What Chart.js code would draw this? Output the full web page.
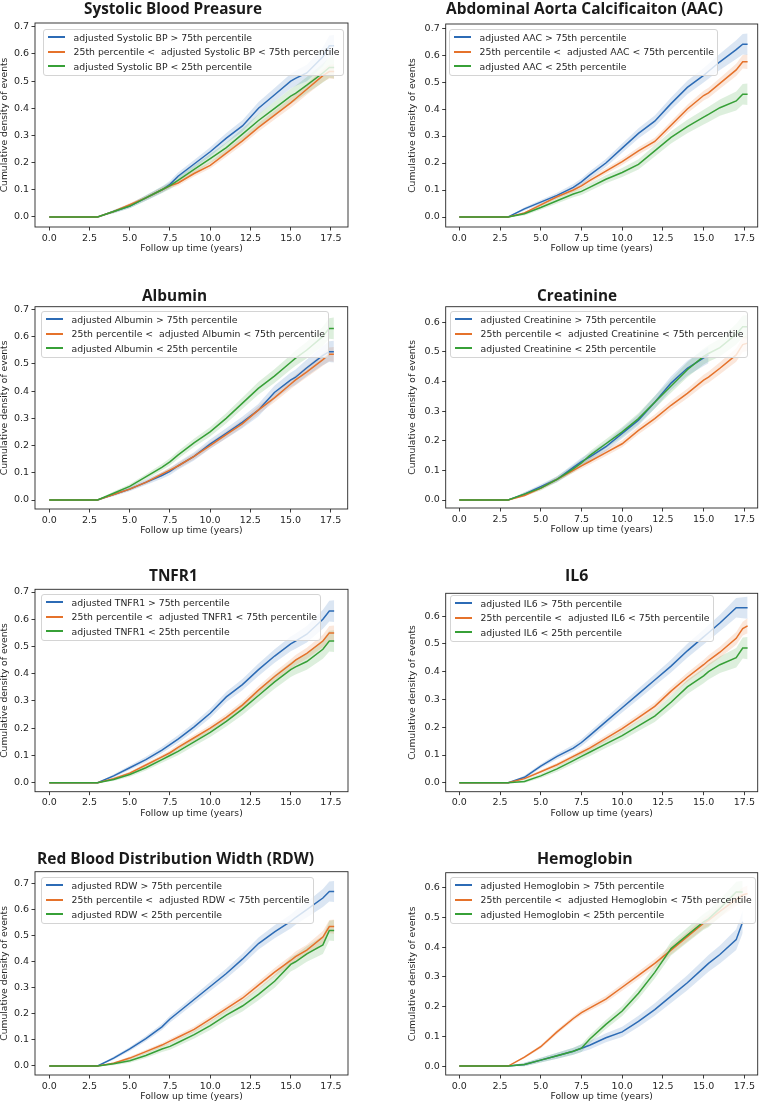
<!DOCTYPE html>
<html>
<head>
<meta charset="utf-8">
<script src="https://cdn.jsdelivr.net/npm/chart.js@4.4.0/dist/chart.umd.min.js"></script>
<style>
  html, body { margin:0; padding:0; background:#fff; }
  body { width:759px; height:1105px; position:relative; overflow:hidden; font-family:"DejaVu Sans", sans-serif; }
  canvas { position:absolute; }
  .ptitle { position:absolute; font-family:"Open Sans", sans-serif; font-weight:700; font-size:16px; line-height:16px; color:#1a1a1a; white-space:nowrap; transform-origin:0 0; }
  .legend { position:absolute; background:rgba(255,255,255,0.8); border:1px solid #d4d4d4; border-radius:3px; font-family:"DejaVu Sans", sans-serif; font-size:9.3px; color:#262626; padding:0 3px 2px 0; box-sizing:border-box; }
  .legend .row { height:14px; display:flex; align-items:center; white-space:pre; }
  .legend .swatch { width:17.6px; height:2px; margin-left:3.5px; margin-right:8.5px; flex:none; }
</style>
</head>
<body>
<script>
// ---------------- data ----------------
const years = [0, 3, 4, 5, 6, 7, 7.5, 8, 9, 10, 11, 12, 13, 14, 15, 15.3, 16, 17, 17.4, 17.7];
const xTicks = [0, 2.5, 5, 7.5, 10, 12.5, 15, 17.5];
const yTicksTo07 = [0, 0.1, 0.2, 0.3, 0.4, 0.5, 0.6, 0.7];
const yTicksTo06 = [0, 0.1, 0.2, 0.3, 0.4, 0.5, 0.6];

// half-width of the shaded confidence band, outer quartile groups and the middle group
const ciQuartileGroups = [0, 0, 0.006, 0.008, 0.010, 0.012, 0.013, 0.014, 0.015, 0.017, 0.019, 0.021, 0.023, 0.025, 0.027, 0.028, 0.030, 0.035, 0.038, 0.040];
const ciMiddleGroup    = [0, 0, 0.004, 0.006, 0.007, 0.008, 0.009, 0.010, 0.011, 0.012, 0.013, 0.014, 0.015, 0.016, 0.018, 0.019, 0.020, 0.023, 0.025, 0.027];

const panelTitles = ["Systolic Blood Preasure", "Abdominal Aorta Calcificaiton (AAC)", "Albumin", "Creatinine", "TNFR1", "IL6", "Red Blood Distribution Width (RDW)", "Hemoglobin"];
const markerNames = ["Systolic BP", "AAC", "Albumin", "Creatinine", "TNFR1", "IL6", "RDW", "Hemoglobin"];

const sbpAbove75  = [0, 0, 0.020, 0.040, 0.070, 0.100, 0.120, 0.150, 0.195, 0.240, 0.290, 0.335, 0.400, 0.450, 0.500, 0.510, 0.530, 0.590, 0.630, 0.630];
const sbpMiddle   = [0, 0, 0.020, 0.045, 0.070, 0.100, 0.115, 0.125, 0.160, 0.190, 0.235, 0.280, 0.330, 0.375, 0.420, 0.435, 0.470, 0.520, 0.535, 0.535];
const sbpBelow25  = [0, 0, 0.020, 0.040, 0.070, 0.100, 0.115, 0.135, 0.175, 0.215, 0.255, 0.305, 0.355, 0.400, 0.445, 0.455, 0.485, 0.530, 0.550, 0.550];

const aacAbove75  = [0, 0, 0.030, 0.055, 0.080, 0.110, 0.130, 0.155, 0.200, 0.255, 0.310, 0.355, 0.420, 0.480, 0.525, 0.540, 0.575, 0.620, 0.640, 0.640];
const aacMiddle   = [0, 0, 0.015, 0.045, 0.075, 0.100, 0.115, 0.135, 0.170, 0.205, 0.245, 0.280, 0.340, 0.400, 0.450, 0.460, 0.495, 0.545, 0.575, 0.575];
const aacBelow25  = [0, 0, 0.012, 0.035, 0.060, 0.085, 0.095, 0.110, 0.140, 0.165, 0.195, 0.245, 0.295, 0.335, 0.370, 0.380, 0.405, 0.430, 0.455, 0.455];

const albAbove75  = [0, 0, 0.020, 0.040, 0.065, 0.090, 0.105, 0.125, 0.160, 0.205, 0.245, 0.285, 0.330, 0.395, 0.440, 0.450, 0.485, 0.530, 0.545, 0.545];
const albMiddle   = [0, 0, 0.020, 0.040, 0.065, 0.095, 0.110, 0.125, 0.160, 0.200, 0.240, 0.280, 0.330, 0.375, 0.425, 0.440, 0.470, 0.515, 0.535, 0.535];
const albBelow25  = [0, 0, 0.025, 0.050, 0.085, 0.120, 0.140, 0.165, 0.210, 0.250, 0.300, 0.355, 0.410, 0.455, 0.505, 0.520, 0.550, 0.600, 0.630, 0.630];

const creAbove75  = [0, 0, 0.020, 0.045, 0.070, 0.110, 0.130, 0.145, 0.180, 0.225, 0.270, 0.330, 0.395, 0.445, 0.480, 0.490, null, null, null, null];
const creMiddle   = [0, 0, 0.015, 0.040, 0.070, 0.100, 0.115, 0.130, 0.160, 0.190, 0.235, 0.275, 0.320, 0.360, 0.405, 0.415, 0.445, 0.490, 0.525, 0.530];
const creBelow25  = [0, 0, 0.020, 0.040, 0.070, 0.105, 0.125, 0.150, 0.190, 0.230, 0.275, 0.330, 0.385, 0.440, 0.485, 0.495, 0.515, 0.560, 0.585, 0.585];

const tnfAbove75  = [0, 0, 0.025, 0.055, 0.085, 0.120, 0.140, 0.160, 0.205, 0.255, 0.315, 0.360, 0.415, 0.465, 0.510, 0.520, 0.545, 0.600, 0.630, 0.630];
const tnfMiddle   = [0, 0, 0.015, 0.035, 0.065, 0.095, 0.110, 0.130, 0.165, 0.200, 0.240, 0.285, 0.340, 0.390, 0.435, 0.450, 0.475, 0.520, 0.550, 0.550];
const tnfBelow25  = [0, 0, 0.012, 0.030, 0.055, 0.085, 0.100, 0.115, 0.150, 0.185, 0.225, 0.270, 0.320, 0.370, 0.415, 0.425, 0.445, 0.490, 0.520, 0.520];

const il6Above75  = [0, 0, 0.020, 0.060, 0.095, 0.125, 0.145, 0.170, 0.220, 0.270, 0.320, 0.370, 0.420, 0.475, 0.525, 0.540, 0.575, 0.630, 0.630, 0.630];
const il6Middle   = [0, 0, 0.015, 0.040, 0.065, 0.095, 0.110, 0.125, 0.160, 0.195, 0.235, 0.275, 0.330, 0.380, 0.425, 0.440, 0.470, 0.520, 0.555, 0.565];
const il6Below25  = [0, 0, 0.005, 0.025, 0.050, 0.080, 0.095, 0.110, 0.140, 0.170, 0.205, 0.240, 0.290, 0.345, 0.385, 0.400, 0.425, 0.450, 0.485, 0.485];

const rdwAbove75  = [0, 0, 0.030, 0.065, 0.105, 0.150, 0.180, 0.205, 0.255, 0.305, 0.355, 0.410, 0.470, 0.515, 0.555, 0.570, 0.600, 0.645, 0.670, 0.670];
const rdwMiddle   = [0, 0, 0.010, 0.030, 0.055, 0.080, 0.095, 0.110, 0.140, 0.180, 0.220, 0.260, 0.310, 0.360, 0.405, 0.420, 0.445, 0.495, 0.535, 0.535];
const rdwBelow25  = [0, 0, 0.008, 0.020, 0.040, 0.065, 0.075, 0.090, 0.120, 0.155, 0.195, 0.230, 0.275, 0.325, 0.390, 0.400, 0.430, 0.465, 0.520, 0.520];

const hgbAbove75  = [0, 0, 0.005, 0.020, 0.035, 0.050, 0.060, 0.070, 0.095, 0.115, 0.150, 0.190, 0.235, 0.280, 0.330, 0.345, 0.375, 0.425, 0.485, null];
const hgbMiddle   = [0, 0, 0.030, 0.065, 0.115, 0.160, 0.180, 0.195, 0.225, 0.265, 0.305, 0.345, 0.390, 0.435, 0.480, 0.490, 0.520, 0.560, 0.575, 0.580];
const hgbBelow25  = [0, 0, 0.005, 0.020, 0.035, 0.050, 0.060, 0.090, 0.140, 0.185, 0.245, 0.315, 0.395, 0.440, 0.485, 0.495, 0.530, 0.585, 0.585, null];

const groupSeries = [
  [sbpAbove75, sbpMiddle, sbpBelow25],
  [aacAbove75, aacMiddle, aacBelow25],
  [albAbove75, albMiddle, albBelow25],
  [creAbove75, creMiddle, creBelow25],
  [tnfAbove75, tnfMiddle, tnfBelow25],
  [il6Above75, il6Middle, il6Below25],
  [rdwAbove75, rdwMiddle, rdwBelow25],
  [hgbAbove75, hgbMiddle, hgbBelow25]
];
const panelYTicks = [yTicksTo07, yTicksTo07, yTicksTo07, yTicksTo06, yTicksTo07, yTicksTo06, yTicksTo07, yTicksTo06];

// ---------------- layout / style ----------------
const groupColors = ['#2c6bb5', '#e5722b', '#37a037'];
const bandColors  = ['rgba(44,107,181,0.17)', 'rgba(229,114,43,0.17)', 'rgba(55,160,55,0.17)'];
const bandWidths  = [ciQuartileGroups, ciMiddleGroup, ciQuartileGroups];

// frame: [left, right, top, bottom] in page px
const layoutInfo = [
  {col:0, frame:[35, 348, 23, 227],        yr:[-0.037, 0.714], xr:[-0.888, 18.56], legend:[43, 29],  tx:173, tb:13.3,  tw:178},
  {col:1, frame:[445.7, 757.7, 24, 227],   yr:[-0.037, 0.715], xr:[-0.835, 18.32], legend:[449, 29], tx:584, tb:13.3,  tw:277},
  {col:0, frame:[35, 347.7, 306.7, 509],   yr:[-0.033, 0.710], xr:[-0.888, 18.56], legend:[41, 311], tx:174, tb:300,   tw:65},
  {col:1, frame:[445.7, 757.7, 306.7, 508],yr:[-0.027, 0.653], xr:[-0.835, 18.32], legend:[450, 311],    tx:577, tb:300,   tw:80},
  {col:0, frame:[35, 348, 589.3, 791.7],   yr:[-0.033, 0.710], xr:[-0.888, 18.56], legend:[41, 594],   tx:173, tb:580.7, tw:48.7},
  {col:1, frame:[445.7, 757.7, 593.3, 791.7],yr:[-0.032, 0.682], xr:[-0.835, 18.32], legend:[450, 595], tx:577, tb:580.7, tw:23.3},
  {col:0, frame:[35, 348, 871.7, 1075],    yr:[-0.035, 0.746], xr:[-0.888, 18.56], legend:[41, 877], tx:175, tb:863.3, tw:277},
  {col:1, frame:[445.7, 757.7, 872.7, 1075],yr:[-0.030, 0.650], xr:[-0.835, 18.32], legend:[450, 877], tx:585, tb:863.3, tw:95.7}
];

const tickFont = {family:'"DejaVu Sans", sans-serif', size:9.5};
const titleFont = {family:'"DejaVu Sans", sans-serif', size:9.2, lineHeight:1};
const textColor = '#262626';

const framePlugin = {
  id:'frame',
  afterDatasetsDraw(chart) {
    const a = chart.chartArea, ctx = chart.ctx;
    ctx.save();
    ctx.strokeStyle = '#262626';
    ctx.lineWidth = 0.9;
    ctx.strokeRect(a.left, a.top, a.right - a.left, a.bottom - a.top);
    ctx.restore();
  }
};

function pts(values, offsets, sign) {
  const out = [];
  values.forEach((v, k) => {
    if (v === null) return;
    out.push({x: years[k], y: offsets ? v + sign * offsets[k] : v});
  });
  return out;
}

layoutInfo.forEach((L, p) => {
  const [fl, fr, ft, fb] = L.frame;
  const cLeft = L.col === 0 ? 0 : 380;
  const cWidth = L.col === 0 ? 380 : 379;
  const cTop = Math.round(ft - 12);
  const cBottom = Math.round(fb + 30);
  const cv = document.createElement('canvas');
  cv.width = cWidth; cv.height = cBottom - cTop;
  cv.style.left = cLeft + 'px'; cv.style.top = cTop + 'px';
  cv.style.width = cWidth + 'px'; cv.style.height = (cBottom - cTop) + 'px';
  document.body.appendChild(cv);

  const series = groupSeries[p];
  const datasets = [];
  // lines: green on top (first dataset is drawn last)
  [2, 1, 0].forEach(g => {
    datasets.push({
      data: pts(series[g]), borderColor: groupColors[g], borderWidth: 1.5,
      pointRadius: 0, fill: false, tension: 0, order: 0
    });
  });
  // confidence bands
  [0, 1, 2].forEach(g => {
    const lowIdx = datasets.length;
    datasets.push({ data: pts(series[g], bandWidths[g], -1), borderWidth: 0, borderColor: 'rgba(0,0,0,0)', pointRadius: 0, fill: false, order: 1 });
    datasets.push({ data: pts(series[g], bandWidths[g], 1), borderWidth: 0, borderColor: 'rgba(0,0,0,0)', pointRadius: 0,
                    fill: {target: lowIdx}, backgroundColor: bandColors[g], order: 1 });
  });

  const yT = panelYTicks[p];
  new Chart(cv, {
    type: 'line',
    data: { datasets },
    plugins: [framePlugin],
    options: {
      responsive: false, animation: false, devicePixelRatio: 1,
      layout: { padding: { top: ft - cTop, right: (cLeft + cWidth) - fr, left: 0, bottom: 0 } },
      plugins: { legend: { display: false }, tooltip: { enabled: false }, title: { display: false } },
      scales: {
        x: {
          type: 'linear', min: L.xr[0], max: L.xr[1],
          afterBuildTicks: s => { s.ticks = xTicks.map(v => ({value: v})); },
          afterFit: s => { s.height = cBottom - fb; },
          grid: { display: true, drawOnChartArea: false, drawTicks: true, tickLength: 3.5, color: '#262626', lineWidth: 0.9 },
          border: { display: false },
          ticks: { font: tickFont, color: textColor, padding: 2, maxRotation: 0, autoSkip: false, callback: v => v.toFixed(1) },
          title: { display: true, text: 'Follow up time (years)', font: titleFont, color: textColor, padding: {top: 0, bottom: 3.5} }
        },
        y: {
          type: 'linear', min: L.yr[0], max: L.yr[1],
          afterBuildTicks: s => { s.ticks = yT.map(v => ({value: v})); },
          afterFit: s => { s.width = fl - cLeft; },
          grid: { display: true, drawOnChartArea: false, drawTicks: true, tickLength: 3.5, color: '#262626', lineWidth: 0.9 },
          border: { display: false },
          ticks: { font: tickFont, color: textColor, padding: 2.5, autoSkip: false, callback: v => v.toFixed(1) },
          title: { display: true, text: 'Cumulative density of events', font: titleFont, color: textColor,
                   padding: {top: L.col === 0 ? 0 : 28.5, bottom: 0} }
        }
      }
    }
  });

  // title
  const t = document.createElement('div');
  t.className = 'ptitle';
  t.textContent = panelTitles[p];
  document.body.appendChild(t);
  const w = t.getBoundingClientRect().width;
  const sx = L.tw / w;
  t.style.left = (L.tx - L.tw / 2) + 'px';
  t.style.top = (L.tb - 13.5) + 'px';
  t.style.transform = 'scaleX(' + sx.toFixed(3) + ')';

  // legend
  const lg = document.createElement('div');
  lg.className = 'legend';
  lg.style.left = L.legend[0] + 'px';
  lg.style.top = L.legend[1] + 'px';
  const m = markerNames[p];
  const labels = ['adjusted ' + m + ' > 75th percentile', '25th percentile <  adjusted ' + m + ' < 75th percentile', 'adjusted ' + m + ' < 25th percentile'];
  labels.forEach((txt, g) => {
    const r = document.createElement('div');
    r.className = 'row';
    if (g === 1) r.style.height = '15px';
    const sw = document.createElement('span');
    sw.className = 'swatch';
    sw.style.background = groupColors[g];
    const tx = document.createElement('span');
    tx.textContent = txt;
    r.appendChild(sw); r.appendChild(tx);
    lg.appendChild(r);
  });
  document.body.appendChild(lg);
});
</script>
</body>
</html>
